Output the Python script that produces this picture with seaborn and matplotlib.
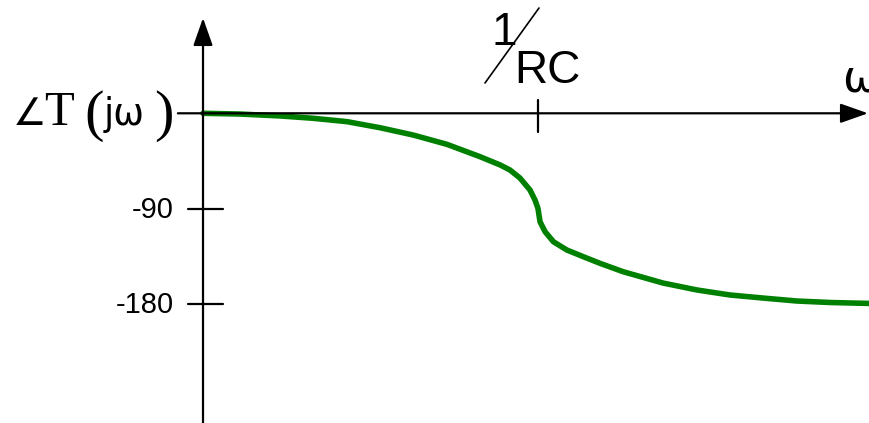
import matplotlib
matplotlib.use("Agg")
import matplotlib.pyplot as plt
from matplotlib.lines import Line2D
import seaborn as sns

# Normalised frequency (omega * RC) and phase of T(j omega) in degrees
omega = [0.0, 0.110, 0.230, 0.328, 0.430, 0.528, 0.627, 0.728, 0.827, 0.887,
         0.916, 0.946, 0.976, 0.991, 1.0, 1.006, 1.021, 1.046, 1.086, 1.135,
         1.185, 1.254, 1.373, 1.475, 1.573, 1.672, 1.773, 1.872, 1.991]
phase = [0.0, -0.7, -2.5, -4.7, -7.9, -13.6, -20.5, -29.3, -41.0, -48.8,
         -53.5, -61.1, -72.4, -81.9, -90.0, -102.4, -111.8, -121.3, -129.1, -135.4,
         -141.7, -149.6, -160.3, -166.9, -171.6, -174.5, -177.3, -178.7, -179.6]

ytick_vals = [-90, -180]
ytick_labels = ["-90", "-180"]
xtick_val = 1.0

W, H = 870, 423
sns.set_style("white")
plt.rcParams["text.color"] = "black"
fig = plt.figure(figsize=(W / 100, H / 100), dpi=100)
ax = fig.add_axes([0, 0, 1, 1])
ax.set_xlim(-0.606, 1.991)
ax.set_ylim(-292.5, 107.0)
ax.axis("off")


def fpx(x, y):
    """Pixel position (origin top-left) -> figure fraction."""
    return x / W, 1 - y / H


axis_kw = dict(color="black", lw=1.6)

# Axes with arrow heads
arrow = dict(arrowstyle="-|>,head_length=0.85,head_width=0.3", color="black",
             lw=1.6, shrinkA=0, shrinkB=0, mutation_scale=20)
ax.annotate("", xy=(1.985, 0), xytext=(-0.075, 0), arrowprops=arrow)
ax.annotate("", xy=(0, 90), xytext=(0, -292.5), arrowprops=arrow)

# Tick marks
ax.plot([xtick_val, xtick_val], [12.6, -17.7], **axis_kw)
for v in ytick_vals:
    ax.plot([-0.045, 0.06], [v, v], **axis_kw)

# Phase curve
sns.lineplot(x=omega, y=phase, color="green", lw=4.0, ax=ax, sort=False)
ax.lines[-1].set_solid_joinstyle("round")

# Tick labels
for v, lab in zip(ytick_vals, ytick_labels):
    ax.text(-0.088, v - 1.5, lab, ha="right", va="center", fontsize=21,
            family="Liberation Sans", color="black")

# 1/RC label
fig.text(*fpx(492, 45), "1", fontsize=33, family="Liberation Sans",
         ha="left", va="baseline", color="black")
fig.text(*fpx(514, 83), "RC", fontsize=33, family="Liberation Sans",
         ha="left", va="baseline", color="black")
fig.add_artist(Line2D([485 / W, 539 / W], [1 - 83 / H, 1 - 8 / H],
                      transform=fig.transFigure, color="black", lw=1.2))

# omega label at the end of the horizontal axis
fig.text(*fpx(842, 92), "ω", fontsize=32, family="DejaVu Sans",
         ha="left", va="baseline", color="black")

# Vertical axis label  ∠T(jω)
fig.text(*fpx(13, 125), "∠", fontsize=27, family=["DejaVu Sans"],
         ha="left", va="baseline", color="black")
fig.text(*fpx(44, 125), "T", fontsize=35, family="Liberation Serif",
         ha="left", va="baseline", color="black")
fig.text(*fpx(84, 116), "(", fontsize=42, family="Liberation Serif",
         ha="left", va="center", color="black")
fig.text(*fpx(104, 125), "jω", fontsize=26.5, family="DejaVu Sans",
         ha="left", va="baseline", color="black")
fig.text(*fpx(154, 116), ")", fontsize=42, family="Liberation Serif",
         ha="left", va="center", color="black")

fig.savefig("out.png", dpi=100)
